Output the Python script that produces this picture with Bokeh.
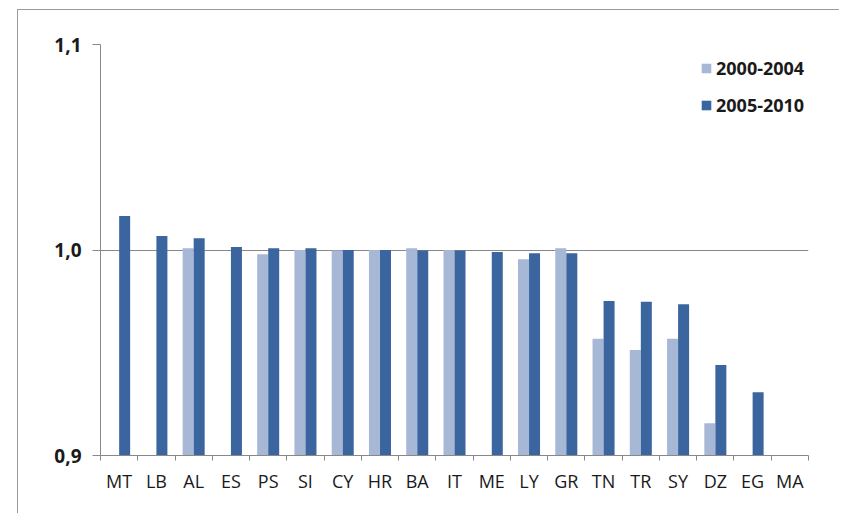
from bokeh.plotting import figure
from bokeh.models import Range1d, FixedTicker, Legend, LegendItem, ColumnDataSource
from bokeh.transform import dodge
from bokeh.embed import file_html
from bokeh.resources import INLINE

categories = ["MT", "LB", "AL", "ES", "PS", "SI", "CY", "HR", "BA", "IT",
              "ME", "LY", "GR", "TN", "TR", "SY", "DZ", "EG", "MA"]
v_2000_2004 = [0.9, 0.9, 1.0008, 0.9, 0.9979, 1.0, 0.9998, 1.0, 1.0008, 1.0,
               0.9, 0.9955, 1.0008, 0.9568, 0.9513, 0.9568, 0.9157, 0.9, 0.9]
v_2005_2010 = [1.0165, 1.0068, 1.0057, 1.0015, 1.0008, 1.0008, 1.0, 1.0, 0.9998, 0.9998,
               0.999, 0.9984, 0.9984, 0.9752, 0.9748, 0.9736, 0.9440, 0.9308, 0.9003]
series_names = ["2000-2004", "2005-2010"]
y_ticks = [0.9, 1.0, 1.1]
y_tick_labels = ["0,9", "1,0", "1,1"]

LIGHT = "#A7B7D6"
DARK = "#3A659F"
AXIS = "#888888"
FONT = "Open Sans"

n = len(categories)
src = ColumnDataSource(dict(x=list(range(n)), a=v_2000_2004, b=v_2005_2010))

p = figure(width=822, height=504, output_backend="svg", toolbar_location=None,
           x_range=Range1d(-0.5, n - 0.5), y_range=Range1d(y_ticks[0], y_ticks[-1]),
           min_border_left=82, min_border_right=32, min_border_top=34, min_border_bottom=59)
p.outline_line_color = None
p.background_fill_color = "white"
p.border_fill_color = "white"
p.margin = (10, 0, 0, 18)
p.styles = {"box-shadow": "-1px -1px 0px 0px #9a9a9a"}

r1 = p.vbar(x=dodge("x", -0.148, range=p.x_range), bottom=y_ticks[0], top="a", width=0.295,
            source=src, fill_color=LIGHT, line_color=None)
r2 = p.vbar(x=dodge("x", 0.148, range=p.x_range), bottom=y_ticks[0], top="b", width=0.295,
            source=src, fill_color=DARK, line_color=None)

p.xgrid.grid_line_color = None
p.ygrid.ticker = FixedTicker(ticks=y_ticks)
p.ygrid.grid_line_color = AXIS
p.ygrid.grid_line_width = 1

ya = p.yaxis[0]
ya.ticker = FixedTicker(ticks=y_ticks)
ya.major_label_overrides = {t: l for t, l in zip(y_ticks, y_tick_labels)}
ya.axis_line_color = AXIS
ya.major_tick_line_color = AXIS
ya.major_tick_out = 8
ya.major_tick_in = 0
ya.minor_tick_line_color = None
ya.major_label_text_font = FONT
ya.major_label_text_font_style = "bold"
ya.major_label_text_font_size = "19px"
ya.major_label_text_color = "#1a1a1a"
ya.major_label_standoff = 11

xa = p.xaxis[0]
xa.ticker = FixedTicker(ticks=list(range(n)), minor_ticks=[i - 0.5 for i in range(n + 1)])
xa.major_label_overrides = {i: c for i, c in enumerate(categories)}
xa.axis_line_color = AXIS
xa.major_tick_line_color = None
xa.major_tick_out = 0
xa.major_tick_in = 0
xa.minor_tick_line_color = AXIS
xa.minor_tick_out = 5
xa.minor_tick_in = 0
xa.major_label_text_font = FONT
xa.major_label_text_font_size = "18px"
xa.major_label_text_color = "#1a1a1a"
xa.major_label_standoff = 8

legend = Legend(items=[LegendItem(label=series_names[0], renderers=[r1]),
                       LegendItem(label=series_names[1], renderers=[r2])],
                location=(600, 337), orientation="vertical",
                glyph_width=12, glyph_height=12, label_height=26, spacing=11,
                label_standoff=4, padding=0, margin=0,
                border_line_color=None, background_fill_alpha=0,
                label_text_font=FONT, label_text_font_size="18px",
                label_text_font_style="bold", label_text_color="#1a1a1a")
p.add_layout(legend)

open("out.html", "w").write(file_html(p, INLINE))
